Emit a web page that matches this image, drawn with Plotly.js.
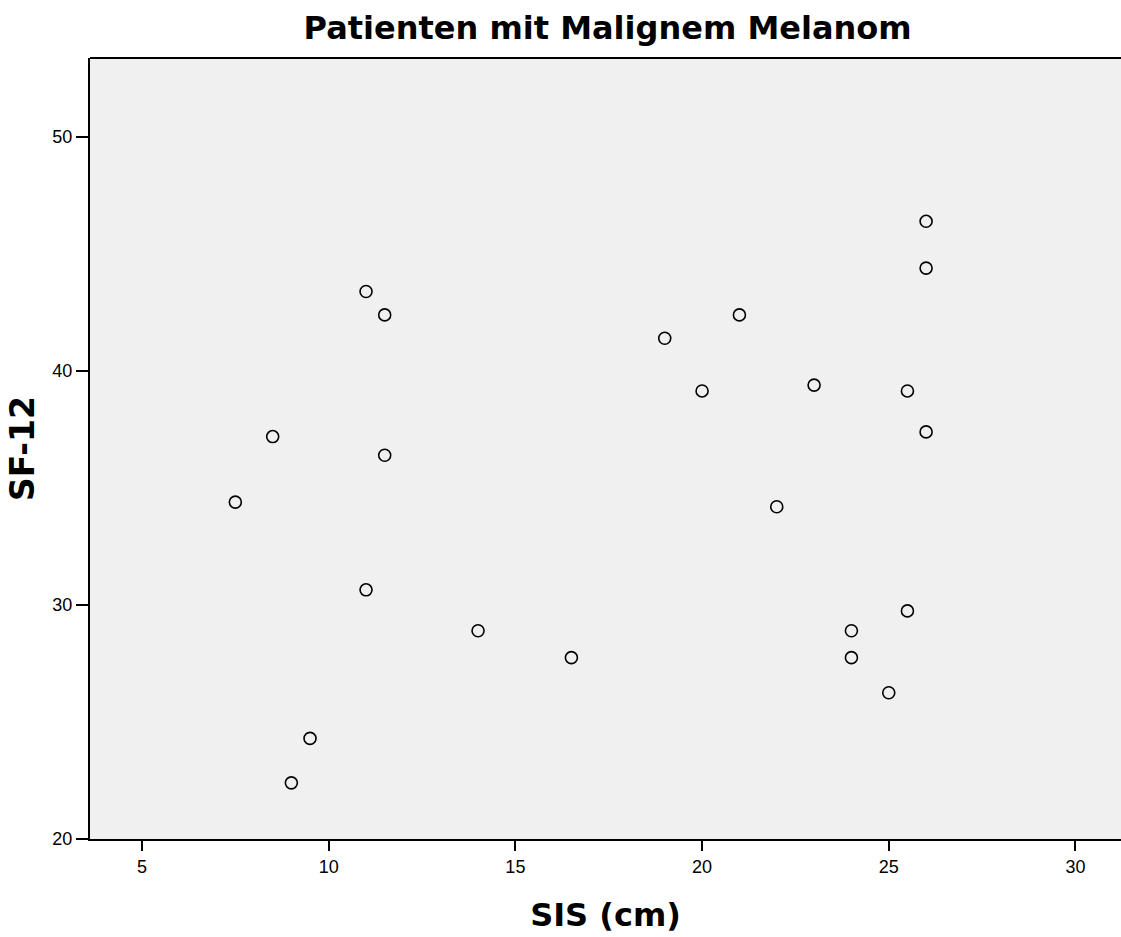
<!DOCTYPE html>
<html>
<head>
<meta charset="utf-8">
<script src="https://cdn.plot.ly/plotly-3.0.1.min.js"></script>
<style>html,body{margin:0;padding:0;background:#fff;}#chart{width:1121px;height:937px;}</style>
</head>
<body>
<div id="chart"></div>
<script>
const sis = [7.5, 8.5, 9, 9.5, 11, 11.5, 11.5, 11, 14, 16.5, 19, 20, 21, 22, 23, 24, 24, 25, 25.5, 25.5, 26, 26, 26];
const sf12 = [34.4, 37.2, 22.4, 24.3, 43.4, 42.4, 36.4, 30.65, 28.9, 27.75, 41.4, 39.15, 42.4, 34.2, 39.4, 28.9, 27.75, 26.25, 39.15, 29.75, 46.4, 44.4, 37.4];
const xTicks = [5, 10, 15, 20, 25, 30];
const yTicks = [20, 30, 40, 50];
const chartTitle = 'Patienten mit Malignem Melanom';
const xTitle = 'SIS (cm)';
const yTitle = 'SF-12';

const titleFont = 'DejaVu Sans, sans-serif';
const trace = {
  x: sis, y: sf12, type: 'scatter', mode: 'markers',
  marker: {symbol: 'circle-open', size: 12, color: '#000', line: {width: 1.6, color: '#000'}},
  hoverinfo: 'x+y'
};
const layout = {
  width: 1121, height: 937,
  margin: {l: 90, r: 0, t: 58, b: 98},
  paper_bgcolor: '#fff', plot_bgcolor: '#f0f0f0',
  font: {family: 'Liberation Sans, Arial, sans-serif', color: '#000', size: 19},
  title: {text: '<b>' + chartTitle + '</b>', font: {size: 32, family: titleFont}, x: 0.542, xanchor: 'center', y: 0.970, yanchor: 'middle'},
  xaxis: {
    range: [3.607, 31.22], tickvals: xTicks, ticktext: xTicks.map(String),
    showgrid: false, zeroline: false, showline: true, linecolor: '#000', linewidth: 2,
    ticks: 'outside', ticklen: 10, tickwidth: 2, tickcolor: '#000',
    tickfont: {size: 18}, mirror: false,
    title: {text: '<b>' + xTitle + '</b>', font: {size: 32, family: titleFont}, standoff: 28}
  },
  yaxis: {
    range: [20, 53.38], tickvals: yTicks, ticktext: yTicks.map(String),
    showgrid: false, zeroline: false, showline: true, linecolor: '#000', linewidth: 2,
    ticks: 'outside', ticklen: 12, tickwidth: 2, tickcolor: '#000',
    tickfont: {size: 18},
    title: {text: '<b>' + yTitle + '</b>', font: {size: 33, family: titleFont}, standoff: 8}
  },
  shapes: [{type: 'line', xref: 'paper', yref: 'paper', x0: 0, x1: 1, y0: 1, y1: 1, line: {color: '#000', width: 2}}],
  showlegend: false
};
Plotly.newPlot('chart', [trace], layout, {displayModeBar: false});
</script>
</body>
</html>
